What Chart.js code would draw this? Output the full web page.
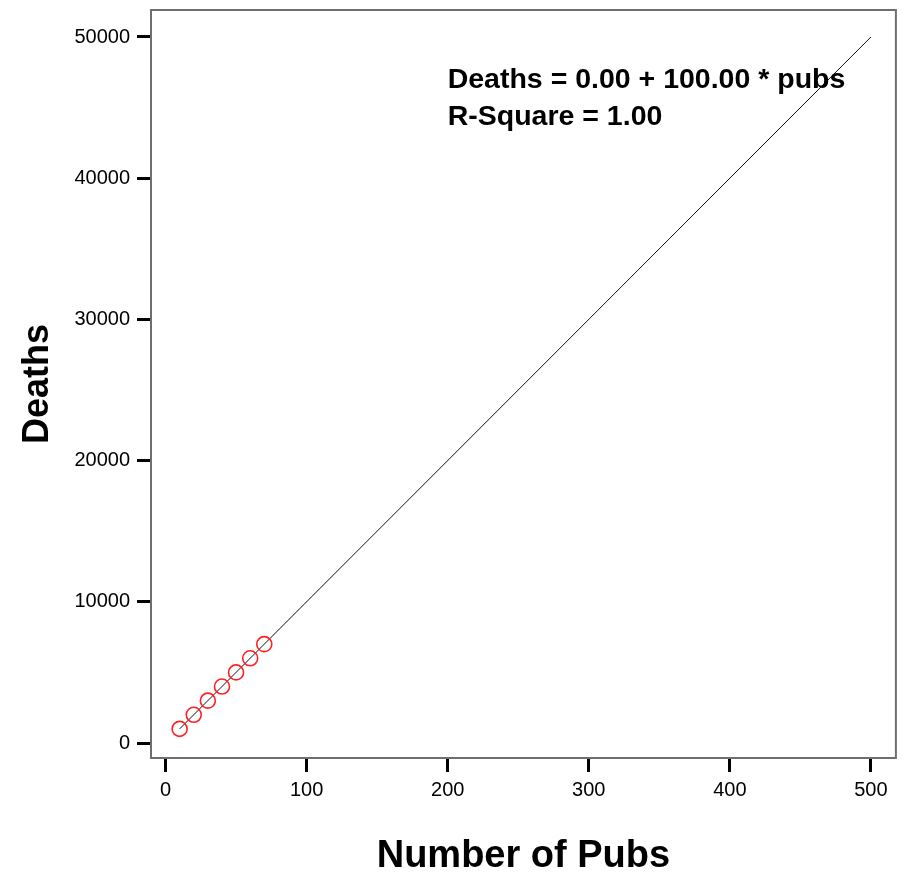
<!DOCTYPE html>
<html>
<head>
<meta charset="utf-8">
<script src="https://cdn.jsdelivr.net/npm/chart.js@4.4.1/dist/chart.umd.min.js"></script>
<style>
  html, body { margin: 0; padding: 0; background: #fff; }
  #wrap { width: 905px; height: 872px; }
</style>
</head>
<body>
<div id="wrap"><canvas id="c" width="905" height="872"></canvas></div>
<script>
// ---- data ----
const pubs = [10, 20, 30, 40, 50, 60, 70];
const deaths = [1000, 2000, 3000, 4000, 5000, 6000, 7000];
const fitPubs = [10, 500];
const fitDeaths = [1000, 50000];
const xTicks = [0, 100, 200, 300, 400, 500];
const yTicks = [0, 10000, 20000, 30000, 40000, 50000];
const xTitle = 'Number of Pubs';
const yTitle = 'Deaths';
const annotationLines = ['Deaths = 0.00 + 100.00 * pubs', 'R-Square = 1.00'];
const annotationAt = { x: 200, y: [46400, 43750] };

const FONT = '"Liberation Sans", Arial, sans-serif';

const framePlugin = {
  id: 'frame',
  afterDraw(chart) {
    const { ctx, chartArea: a } = chart;
    ctx.save();
    ctx.strokeStyle = '#6e6e6e';
    ctx.lineWidth = 2;
    ctx.strokeRect(a.left, a.top, a.right - a.left, a.bottom - a.top);
    ctx.restore();
  }
};

const annotationPlugin = {
  id: 'eqText',
  afterDraw(chart) {
    const { ctx, scales } = chart;
    ctx.save();
    ctx.fillStyle = '#000';
    ctx.font = 'bold 28.5px ' + FONT;
    ctx.textBaseline = 'alphabetic';
    ctx.textAlign = 'left';
    const px = scales.x.getPixelForValue(annotationAt.x);
    annotationLines.forEach((t, i) => {
      ctx.fillText(t, px, scales.y.getPixelForValue(annotationAt.y[i]));
    });
    ctx.restore();
  }
};

new Chart(document.getElementById('c'), {
  type: 'scatter',
  data: {
    datasets: [
      {
        label: 'fit',
        type: 'line',
        data: fitPubs.map((x, i) => ({ x, y: fitDeaths[i] })),
        borderColor: '#111',
        borderWidth: 1,
        pointRadius: 0,
        fill: false,
        order: 2
      },
      {
        label: 'Deaths',
        data: pubs.map((x, i) => ({ x, y: deaths[i] })),
        pointStyle: 'circle',
        pointRadius: 7.5,
        pointBorderColor: '#ff2020',
        pointBackgroundColor: 'rgba(0,0,0,0)',
        pointBorderWidth: 1.6,
        order: 1
      }
    ]
  },
  options: {
    responsive: false,
    animation: false,
    layout: { padding: { top: 10, right: 8, bottom: 0, left: 0 } },
    plugins: { legend: { display: false }, tooltip: { enabled: false } },
    scales: {
      x: {
        type: 'linear',
        min: -10.3,
        max: 517.7,
        afterBuildTicks(s) { s.ticks = xTicks.map(v => ({ value: v })); },
        afterFit(s) { s.height = 114; s.paddingLeft = 0; s.paddingRight = 0; },
        border: { display: false },
        grid: { display: true, drawOnChartArea: false, drawTicks: true, tickLength: 14, tickWidth: 3, tickColor: '#000' },
        ticks: { color: '#000', font: { family: FONT, size: 20 }, padding: 6, maxRotation: 0, autoSkip: false,
                 callback: v => String(v) },
        title: { display: true, text: xTitle, color: '#000', font: { family: FONT, size: 38, weight: 'bold', lineHeight: 0.8 }, padding: { top: 0, bottom: 0 } }
      },
      y: {
        type: 'linear',
        min: -1062,
        max: 51912,
        afterBuildTicks(s) { s.ticks = yTicks.map(v => ({ value: v })); },
        afterFit(s) { s.width = 151; s.paddingTop = 0; s.paddingBottom = 0; },
        border: { display: false },
        grid: { display: true, drawOnChartArea: false, drawTicks: true, tickLength: 14, tickWidth: 3, tickColor: '#000' },
        ticks: { color: '#000', font: { family: FONT, size: 20 }, padding: 7, autoSkip: false,
                 callback: v => String(v) },
        title: { display: true, text: yTitle, color: '#000', font: { family: FONT, size: 36, weight: 'bold', lineHeight: 1 }, padding: { top: 20, bottom: 0 } }
      }
    }
  },
  plugins: [framePlugin, annotationPlugin]
});
</script>
</body>
</html>
